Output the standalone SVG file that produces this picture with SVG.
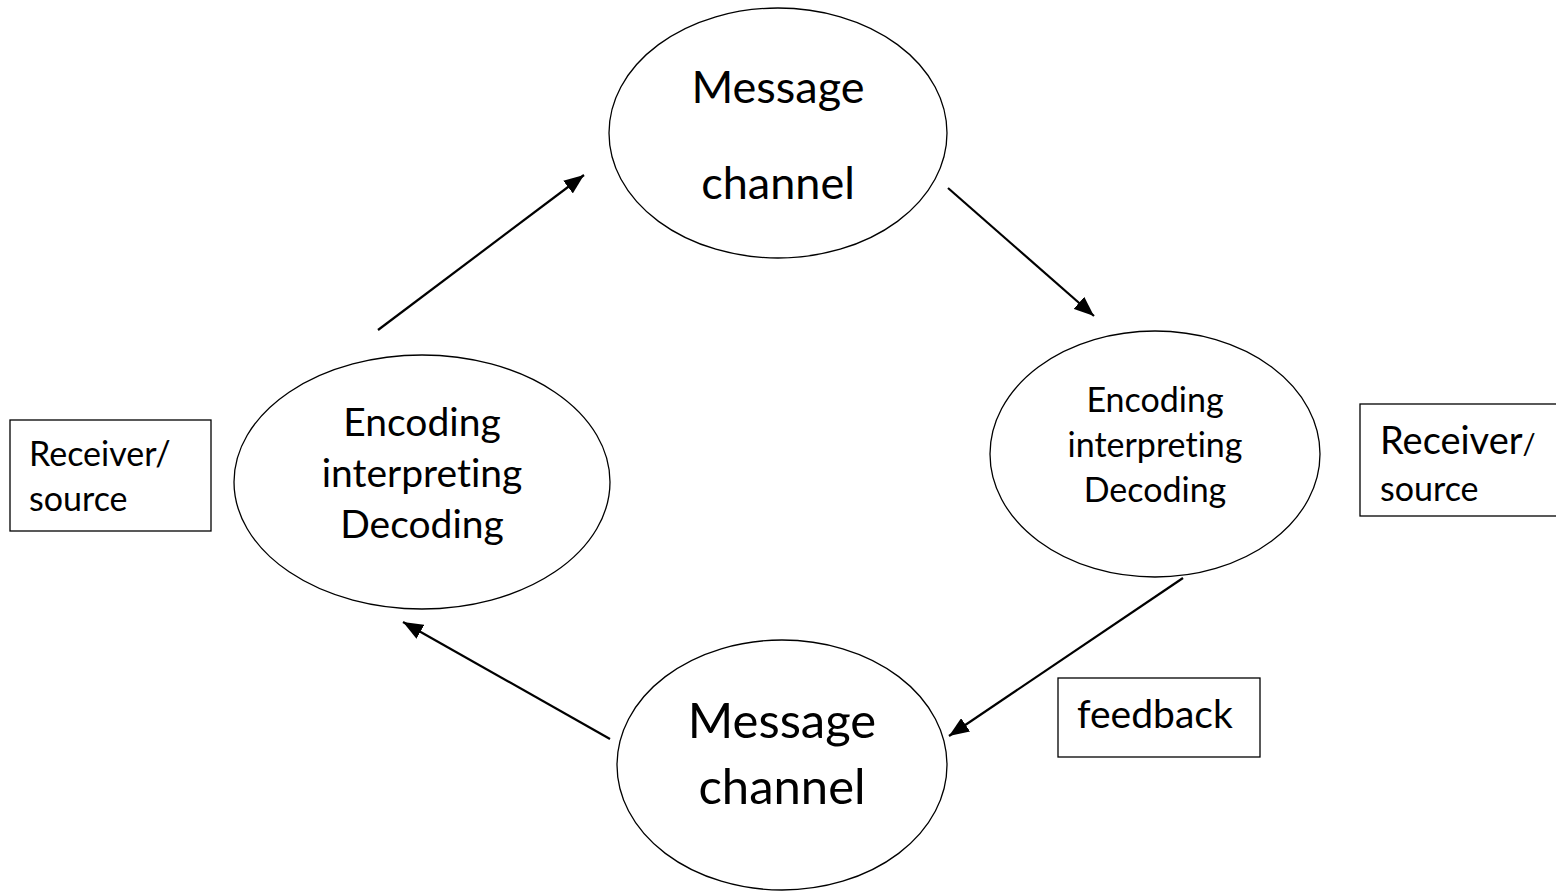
<svg xmlns="http://www.w3.org/2000/svg" width="1556" height="892" viewBox="0 0 1556 892">
<style>
.e{fill:#fff;stroke:#000;stroke-width:1.3}
.b{fill:#fff;stroke:#000;stroke-width:1.3}
.t{font-family:Lato,"Open Sans",sans-serif;fill:#000;font-variant-ligatures:none}
.c{stroke:#000;stroke-width:2.2;fill:none;marker-end:url(#a)}
</style>
<defs>
<marker id="a" viewBox="0 0 20 16" refX="20" refY="8" markerWidth="20" markerHeight="16" markerUnits="userSpaceOnUse" orient="auto"><path d="M0,0 L20,8 L0,16 z" fill="#000"/></marker>
</defs>
<rect width="1556" height="892" fill="#fff"/>
<g id="connectors">
<line class="c" x1="378" y1="330" x2="584" y2="175"/>
<line class="c" x1="948" y1="188" x2="1094" y2="316"/>
<line class="c" x1="1183" y1="578" x2="949" y2="736"/>
<line class="c" x1="610" y1="739" x2="403" y2="622"/>
</g>
<g id="top">
<ellipse class="e" cx="778" cy="133" rx="169" ry="125"/>
<text class="t" x="778" y="103" font-size="45" text-anchor="middle">Message</text>
<text class="t" x="778" y="199" font-size="45" text-anchor="middle">channel</text>
</g>
<g id="left">
<ellipse class="e" cx="422" cy="482" rx="188" ry="127"/>
<text class="t" x="422" y="436" font-size="39" text-anchor="middle">Encoding</text>
<text class="t" x="422" y="487" font-size="39" text-anchor="middle">interpreting</text>
<text class="t" x="422" y="538" font-size="39" text-anchor="middle">Decoding</text>
</g>
<g id="right">
<ellipse class="e" cx="1155" cy="454" rx="165" ry="123"/>
<text class="t" x="1155" y="412" font-size="34" text-anchor="middle">Encoding</text>
<text class="t" x="1155" y="457" font-size="34" text-anchor="middle">interpreting</text>
<text class="t" x="1155" y="502" font-size="34" text-anchor="middle">Decoding</text>
</g>
<g id="bottom">
<ellipse class="e" cx="782" cy="765" rx="165" ry="125"/>
<text class="t" x="782" y="738" font-size="49" text-anchor="middle">Message</text>
<text class="t" x="782" y="804" font-size="49" text-anchor="middle">channel</text>
</g>
<g id="leftbox">
<rect class="b" x="10" y="420" width="201" height="111"/>
<text class="t" x="29" y="466" font-size="34">Receiver/</text>
<text class="t" x="29" y="511" font-size="34">source</text>
</g>
<g id="rightbox">
<rect class="b" x="1360" y="404" width="210" height="112"/>
<text class="t" x="1380" y="454" font-size="38">Receiver<tspan font-size="29">/</tspan></text>
<text class="t" x="1380" y="501" font-size="34">source</text>
</g>
<g id="feedback">
<rect class="b" x="1058" y="678" width="202" height="79"/>
<text class="t" x="1077" y="728" font-size="39">feedback</text>
</g>
</svg>
